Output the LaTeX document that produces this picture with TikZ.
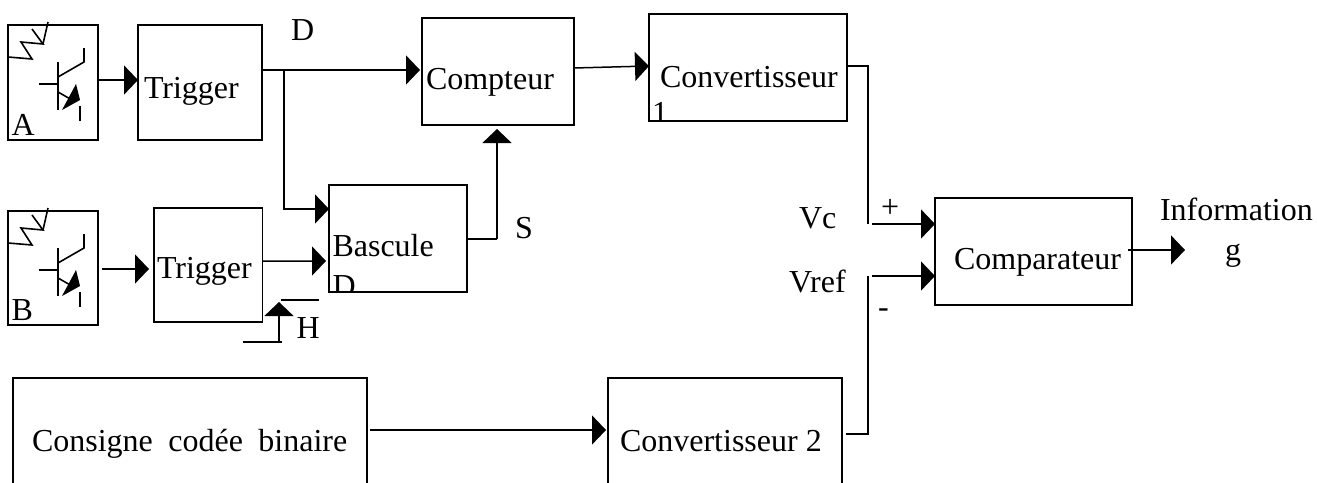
\documentclass[tikz,border=0pt]{standalone}
\usepackage{fontspec}
\setmainfont{Liberation Serif}
\usetikzlibrary{arrows.meta}
\tikzset{
  bloc/.style={draw,line width=1.5bp,inner sep=0pt,outer sep=0pt},
  txt/.style={anchor=base west,inner sep=0pt,outer sep=0pt,font=\fontsize{32bp}{32bp}\selectfont},
  fil/.style={line width=1.5bp},
  fleche/.style={fil,-{Triangle[length=14bp,width=29bp]}},
  phototrans/.pic={
    % coordinates from the top left corner of the box
    \draw [line width=1.6bp] (0bp,-32bp) -- (24bp,-34bp) -- (13bp,-17bp) -- (35bp,-19bp) -- (24bp,-4bp);
    \draw [line width=1.6bp] (35bp,-19bp) -- (40bp,3bp);
    \draw [line width=1.6bp] (31bp,-59bp) -- (50bp,-59bp);
    \draw [line width=1.8bp] (50bp,-37bp) -- (50bp,-85bp);
    \draw [line width=1.6bp] (50bp,-52bp) -- (76bp,-37bp) -- (76bp,-23bp);
    \draw [line width=1.6bp] (50bp,-67bp) -- (64bp,-75bp);
    \fill (54bp,-85bp) -- (68bp,-59bp) -- (72bp,-75bp) -- cycle;
    \draw [line width=1.8bp] (72bp,-81bp) -- (72bp,-96bp);
  }
}

\begin{document}
\begin{tikzpicture}

\useasboundingbox (0bp,0bp) rectangle (1317bp,-483bp);
\clip (0bp,0bp) rectangle (1317bp,-483bp);

\node (boxA) at (53bp,-82.5bp)[bloc,minimum width=90bp,minimum height=115bp] {};
\node (trig1) at (200bp,-82.5bp)[bloc,minimum width=124bp,minimum height=115bp] {};
\node (cpt) at (498bp,-71.5bp)[bloc,minimum width=152bp,minimum height=107bp] {};
\node (conv1) at (748bp,-67.5bp)[bloc,minimum width=198bp,minimum height=107bp] {};
\node (boxB) at (53bp,-268bp)[bloc,minimum width=90bp,minimum height=114bp] {};
\node (trig2) at (208.3bp,-265bp)[bloc,minimum width=108.7bp,minimum height=114bp] {};
\node (basc) at (398bp,-238.5bp)[bloc,minimum width=138bp,minimum height=107bp] {};
\node (comp) at (1033.5bp,-251.5bp)[bloc,minimum width=197bp,minimum height=107bp] {};
\node (cons) at (190bp,-449bp)[bloc,minimum width=354bp,minimum height=142bp] {};
\node (conv2) at (725bp,-449bp)[bloc,minimum width=234bp,minimum height=142bp] {};

\pic at (boxA.north west) {phototrans};
\pic at (boxB.north west) {phototrans};

\node (txtA) at (11.5bp,-135bp)[txt] {A};
\node (txtB) at (11.5bp,-320bp)[txt] {B};
\node (txtT1) at (144bp,-98bp)[txt] {Trigger};
\node (txtT2) at (157bp,-278bp)[txt] {Trigger};
\node (txtCpt) at (426bp,-89bp)[txt] {Compteur};
\node (txtConv1) at (660bp,-87bp)[txt] {Convertisseur};
\node (txtBasc) at (332.5bp,-256bp)[txt] {Bascule};
\node (txtComp) at (954bp,-269bp)[txt] {Comparateur};
\node (txtCons) at (32bp,-451bp)[txt] {Consigne\hspace{7.5bp} codée\hspace{7.5bp} binaire};
\node (txtConv2) at (620bp,-451bp)[txt] {Convertisseur 2};
\node (txtD) at (291bp,-40bp)[txt] {D};
\node (txtS) at (515bp,-238bp)[txt] {S};
\node (txtH) at (296.5bp,-338bp)[txt] {H};
\node (txtVc) at (799bp,-228bp)[txt] {Vc};
\node (txtVref) at (789bp,-292bp)[txt] {Vref};
\node (txtPlus) at (881bp,-217bp)[txt] {+};
\node (txtMoins) at (878bp,-317bp)[txt] {-};
\node (txtInfo) at (1160bp,-220bp)[txt] {Information};
\node (txtG) at (1225bp,-260bp)[txt] {g};

% second lines cut off by their box
\begin{scope}
\clip (conv1.south west) rectangle (conv1.north east);
\node (txtUn) at (652bp,-123bp)[txt] {1};
\end{scope}
\begin{scope}
\clip (basc.south west) rectangle (basc.north east);
\node (txtBascD) at (332.5bp,-296bp)[txt] {D};
\end{scope}

\coordinate (brD) at (284bp,-70bp);
\coordinate (coudeS) at (497bp,-239bp);
\coordinate (coude1) at (868bp,-66bp);
\coordinate (finVc) at (868bp,-224bp);
\coordinate (debVc) at (872bp,-224bp);
\coordinate (debVref) at (872bp,-276bp);
\coordinate (hautVref) at (868bp,-276bp);
\coordinate (coude2) at (868bp,-434bp);
\coordinate (sortie) at (1185bp,-250bp);
\coordinate (debB) at (102bp,-269bp);
\coordinate (finB) at (149bp,-269bp);
\coordinate (debCons) at (370bp,-430bp);
\coordinate (debH) at (243bp,-342bp);
\coordinate (coudeH) at (279bp,-342bp);
\coordinate (finH) at (279bp,-302bp);
\coordinate (hautH1) at (281bp,-300bp);
\coordinate (hautH2) at (319bp,-300bp);

\draw [fleche] ([yshift=2.5bp]boxA.east) to ([yshift=2.5bp]trig1.west);
\draw [fleche] (debB) to (finB);
\draw [fleche] ([yshift=12.5bp]trig1.east) to (brD) to ([xshift=-2bp]cpt.west |- brD);
\draw [fleche] (brD) |- ([yshift=29.5bp]basc.west);
\draw [fleche] ([yshift=4bp]trig2.east) to ([xshift=-3bp,yshift=-22.5bp]basc.west);
\draw [fil] (basc.east |- coudeS) to (coudeS);
\draw [fleche] (coudeS) to ([yshift=-4bp]coudeS |- cpt.south);
\draw [fleche] ([yshift=3.5bp]cpt.east) to ([yshift=1.5bp]conv1.west);
\draw [fil] ([yshift=1.5bp]conv1.east) to (coude1) to (finVc);
\draw [fleche] (debVc) to (comp.west |- debVc);
\draw [fleche] (debVref) to (comp.west |- debVref);
\draw [fil] (hautVref) to (coude2) to ([xshift=4bp]conv2.east |- coude2);
\draw [fleche] (debCons) to ([xshift=-2bp]conv2.west |- debCons);
\draw [fleche] ([xshift=-4bp,yshift=1.5bp]comp.east) to (sortie);
\draw [fil] (debH) to ([xshift=3bp]coudeH);
\draw [fleche] (coudeH) to (finH);
\draw [fil] (hautH1) to (hautH2);

\end{tikzpicture}
\end{document}
